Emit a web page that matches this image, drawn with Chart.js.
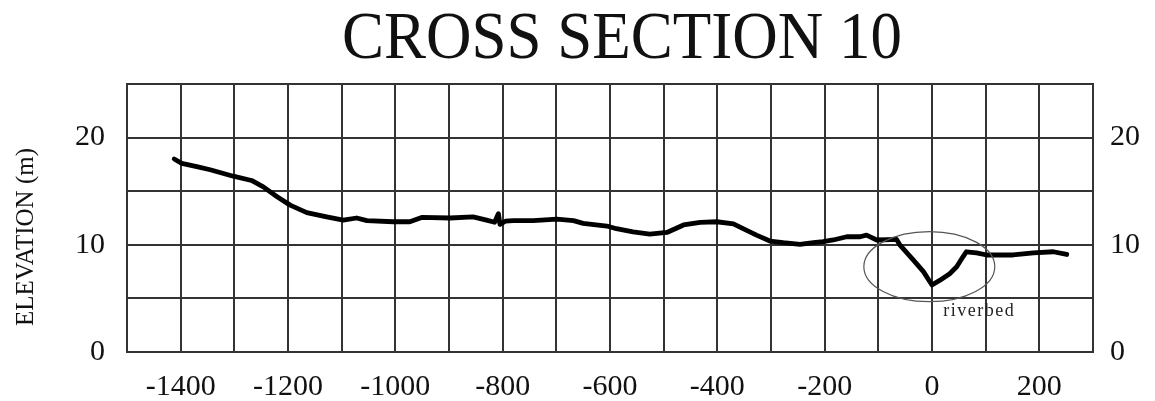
<!DOCTYPE html>
<html>
<head>
<meta charset="utf-8">
<title>Cross Section 10</title>
<script src="https://cdn.jsdelivr.net/npm/chart.js@4.4.1/dist/chart.umd.min.js"></script>
<style>
  html, body { margin: 0; padding: 0; background: #fff; }
</style>
</head>
<body>
<canvas id="sectionChart" width="1155" height="401"></canvas>
<script>
// surveyed ground profile: distance from river centre (m) vs elevation (m)
const distance = [
  -1412, -1398, -1370, -1345, -1302, -1268, -1246, -1221, -1196, -1165,
  -1128, -1097, -1072, -1053, -1004, -973, -951, -898, -855, -830,
  -815, -808, -805, -795, -780, -743, -699, -668, -650, -606,
  -588, -557, -526, -494, -463, -432, -401, -370, -352, -327,
  -302, -277, -246, -221, -203, -184, -159, -134, -122, -103,
  -66, -60, -35, -16, 0, 15, 33, 46, 58, 64,
  83, 102, 151, 189, 226, 251
];
const elevation = [
  18.0, 17.6, 17.3, 17.0, 16.4, 16.0, 15.4, 14.5, 13.7, 13.0,
  12.6, 12.3, 12.5, 12.25, 12.15, 12.15, 12.55, 12.5, 12.6, 12.3,
  12.1, 12.9, 11.9, 12.2, 12.25, 12.25, 12.4, 12.25, 12.0, 11.75,
  11.5, 11.2, 11.0, 11.15, 11.85, 12.1, 12.15, 11.95, 11.5, 10.9,
  10.35, 10.2, 10.05, 10.2, 10.3, 10.45, 10.75, 10.75, 10.9, 10.45,
  10.5, 10.0, 8.6, 7.5, 6.25, 6.7, 7.3, 7.95, 8.9, 9.35,
  9.25, 9.05, 9.05, 9.25, 9.35, 9.1
];

const xTickLabels = [-1400, -1200, -1000, -800, -600, -400, -200, 0, 200];
const yTickLabels = [0, 10, 20];

// riverbed marker, in data units
const riverbedCentre = { x: -5, y: 7.96 };
const riverbedRadius = { x: 122, y: 3.27 };
const riverbedNote = { x: 21, y: 3.35, text: "riverbed" };

const serif = '"Liberation Serif", "Times New Roman", serif';
const gridColor = "#333";

const sectionDecor = {
  id: "sectionDecor",
  afterDatasetsDraw(chart) {
    const { ctx, scales } = chart;
    const xs = scales.x;
    const ys = scales.y;
    ctx.save();
    // ellipse round the channel
    const cx = xs.getPixelForValue(riverbedCentre.x);
    const cy = ys.getPixelForValue(riverbedCentre.y);
    const rx = Math.abs(xs.getPixelForValue(riverbedCentre.x + riverbedRadius.x) - cx);
    const ry = Math.abs(ys.getPixelForValue(riverbedCentre.y + riverbedRadius.y) - cy);
    ctx.beginPath();
    ctx.ellipse(cx, cy, rx, ry, 0, 0, Math.PI * 2);
    ctx.strokeStyle = "#555";
    ctx.lineWidth = 1.2;
    ctx.stroke();

    ctx.fillStyle = "#222";
    ctx.font = "18px " + serif;
    ctx.letterSpacing = "1.5px";
    ctx.textAlign = "left";
    ctx.textBaseline = "alphabetic";
    ctx.fillText(riverbedNote.text, xs.getPixelForValue(riverbedNote.x), ys.getPixelForValue(riverbedNote.y));
    ctx.restore();
  },
  afterDraw(chart) {
    const { ctx } = chart;
    ctx.save();
    ctx.fillStyle = "#111";
    // title, slightly tall lettering
    ctx.save();
    ctx.translate(622, 58);
    ctx.scale(1, 1.08);
    ctx.font = "63px " + serif;
    ctx.textAlign = "center";
    ctx.textBaseline = "alphabetic";
    ctx.fillText("CROSS SECTION 10", 0, 0);
    ctx.restore();

    // vertical axis title
    ctx.save();
    ctx.translate(26, 237);
    ctx.rotate(-Math.PI / 2);
    ctx.font = "25px " + serif;
    ctx.textAlign = "center";
    ctx.textBaseline = "middle";
    ctx.fillText("ELEVATION (m)", 0, 0);
    ctx.restore();
    ctx.restore();
  }
};

const points = distance.map((d, i) => ({ x: d, y: elevation[i] }));

const tickFont = { family: serif, size: 30 };

new Chart(document.getElementById("sectionChart").getContext("2d"), {
  type: "scatter",
  data: {
    datasets: [{
      data: points,
      showLine: true,
      borderColor: "#000",
      borderWidth: 4.8,
      pointRadius: 0,
      tension: 0,
      borderJoinStyle: "round",
      borderCapStyle: "round"
    }]
  },
  options: {
    responsive: false,
    animation: false,
    devicePixelRatio: 1,
    layout: { padding: { top: 84, left: 0, right: 0, bottom: 0 } },
    plugins: {
      legend: { display: false },
      title: { display: false },
      tooltip: { enabled: false }
    },
    scales: {
      x: {
        type: "linear",
        min: -1500,
        max: 300,
        grid: { color: gridColor, lineWidth: 2, drawTicks: false },
        border: { color: gridColor, width: 2 },
        ticks: {
          stepSize: 100,
          padding: 17,
          color: "#111",
          font: tickFont,
          maxRotation: 0,
          autoSkip: false,
          callback: (v) => (xTickLabels.includes(v) ? String(v) : "")
        },
        afterFit(scale) { scale.height = 49; }
      },
      y: {
        position: "left",
        min: 0,
        max: 25,
        grid: { color: gridColor, lineWidth: 2, drawTicks: false },
        border: { color: gridColor, width: 2 },
        ticks: {
          stepSize: 5,
          padding: 22,
          color: "#111",
          font: tickFont,
          callback: (v) => (yTickLabels.includes(v) ? String(v) : "")
        },
        afterFit(scale) { scale.width = 127; }
      },
      y2: {
        position: "right",
        min: 0,
        max: 25,
        grid: { display: false, drawTicks: false },
        border: { color: gridColor, width: 2 },
        ticks: {
          stepSize: 5,
          padding: 17,
          color: "#111",
          font: tickFont,
          callback: (v) => (yTickLabels.includes(v) ? String(v) : "")
        },
        afterFit(scale) { scale.width = 62; }
      }
    }
  },
  plugins: [sectionDecor]
});
</script>
</body>
</html>
